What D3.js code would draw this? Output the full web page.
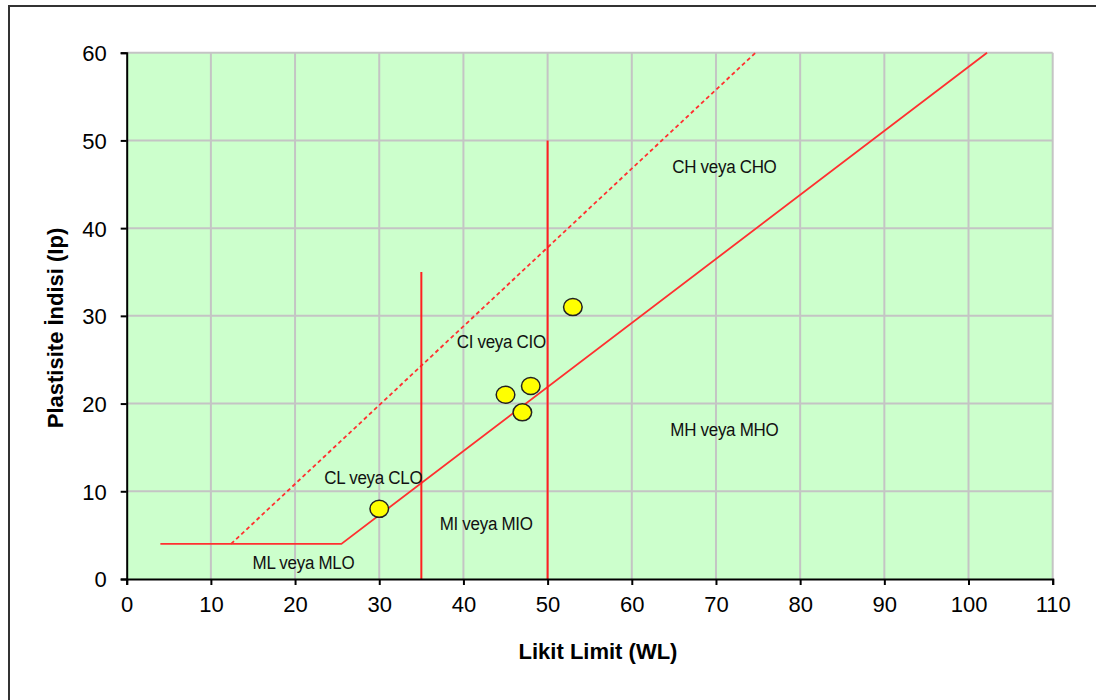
<!DOCTYPE html>
<html><head><meta charset="utf-8">
<script src="https://cdn.jsdelivr.net/npm/d3@7"></script>
<style>html,body{margin:0;padding:0;background:#fff;}svg{display:block;font-family:"Liberation Sans",Arial,sans-serif;}</style>
</head><body>
<svg id="c" width="1096" height="700"></svg>
<script>
// Data
const xTicks = [0,10,20,30,40,50,60,70,80,90,100,110];
const yTicks = [0,10,20,30,40,50,60];
const sampleWL = [30,45,48,47,53];
const sampleIp = [8,21,22,19,31];
const aLineWL = [4,25.5,102.2];
const aLineIp = [4,4,60];
const uLineWL = [12.4,74.7];
const uLineIp = [4,60];
const vLine1WL = [35,35];
const vLine1Ip = [0,35];
const vLine2WL = [50,50];
const vLine2Ip = [0,50];
const zoneNames = ["CH veya CHO","CI veya CIO","MH veya MHO","CL veya CLO","MI veya MIO","ML veya MLO"];
const zoneWL = [71,44.5,71,29.3,42.7,21];
const zoneIp = [46.3,26.3,16.3,10.8,5.6,1.15];

const svg = d3.select("#c");
const x = d3.scaleLinear().domain([0,110]).range([126.7,1052.7]);
const y = d3.scaleLinear().domain([0,60]).range([579,52.7]);

// outer frame
svg.append("rect").attr("x",9).attr("y",6).attr("width",1100).attr("height",710)
  .attr("fill","#fff").attr("stroke","#333").attr("stroke-width",2);

// plot area
svg.append("rect").attr("x",x(0)).attr("y",y(60)).attr("width",x(110)-x(0)).attr("height",y(0)-y(60))
  .attr("fill","#ccffcc");

// grid
svg.append("g").selectAll("line").data(xTicks.filter(d=>d>0)).join("line")
  .attr("x1",d=>x(d)).attr("x2",d=>x(d)).attr("y1",y(0)).attr("y2",y(60))
  .attr("stroke","#c4c4c4").attr("stroke-width",2);
svg.append("g").selectAll("line").data(yTicks.filter(d=>d>0)).join("line")
  .attr("x1",x(0)).attr("x2",x(110)).attr("y1",d=>y(d)).attr("y2",d=>y(d))
  .attr("stroke","#c4c4c4").attr("stroke-width",2);

// lines
const line = d3.line().x(d=>x(d[0])).y(d=>y(d[1]));
const zip = (a,b)=>a.map((v,i)=>[v,b[i]]);
svg.append("path").attr("d",line(zip(aLineWL,aLineIp))).attr("fill","none").attr("stroke","#ff3030").attr("stroke-width",1.8);
svg.append("path").attr("d",line(zip(uLineWL,uLineIp))).attr("fill","none").attr("stroke","#ff3030").attr("stroke-width",1.8).attr("stroke-dasharray","4,3");
svg.append("path").attr("d",line(zip(vLine1WL,vLine1Ip))).attr("fill","none").attr("stroke","#ff2020").attr("stroke-width",2);
svg.append("path").attr("d",line(zip(vLine2WL,vLine2Ip))).attr("fill","none").attr("stroke","#ff2020").attr("stroke-width",2);

// axes
const xAxis = d3.axisBottom(x).tickValues(xTicks).tickSize(6).tickPadding(11);
const gx = svg.append("g").attr("transform",`translate(0,${y(0)})`).call(xAxis);
const yAxis = d3.axisLeft(y).tickValues(yTicks).tickSize(6).tickPadding(14);
const gy = svg.append("g").attr("transform",`translate(${x(0)},0)`).call(yAxis);
[gx,gy].forEach(g=>{
  g.select(".domain").attr("stroke","#000").attr("stroke-width",2);
  g.selectAll(".tick line").attr("stroke","#000").attr("stroke-width",2);
  g.selectAll(".tick text").attr("fill","#000").style("font-size","22px").style("font-family","'Liberation Sans',Arial,sans-serif");
});
gy.selectAll(".tick text").attr("dy","0.36em");

// zone labels
svg.append("g").selectAll("text").data(zoneNames).join("text")
  .attr("transform",(d,i)=>`translate(${x(zoneWL[i])},${y(zoneIp[i])}) scale(1,1.12)`)
  .attr("text-anchor","middle").style("font-size","17px").attr("fill","#111").attr("letter-spacing","-0.3")
  .text(d=>d);

// points
svg.append("g").selectAll("ellipse").data(sampleWL).join("ellipse")
  .attr("cx",(d,i)=>x(d)).attr("cy",(d,i)=>y(sampleIp[i]))
  .attr("rx",9.3).attr("ry",8.5).attr("fill","#ffff00").attr("stroke","#222").attr("stroke-width",1.5);

// axis titles
svg.append("text").attr("x",598).attr("y",659).attr("text-anchor","middle")
  .style("font-size","22px").style("font-weight","bold").attr("fill","#000").text("Likit Limit (WL)");
svg.append("text").attr("transform","translate(63,328) rotate(-90)").attr("text-anchor","middle")
  .style("font-size","22px").style("font-weight","bold").attr("fill","#000").text("Plastisite İndisi (Ip)");
</script>
</body></html>
